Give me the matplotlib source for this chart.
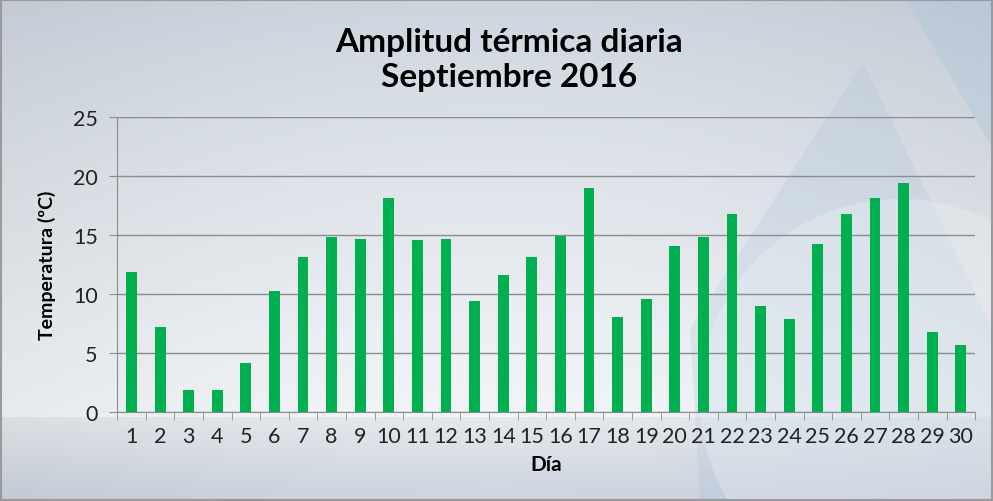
import numpy as np
import matplotlib.pyplot as plt
from matplotlib.patches import Polygon, Ellipse

# datos
dias = list(range(1, 31))
amplitud = [11.9, 7.2, 1.9, 1.9, 4.2, 10.3, 13.1, 14.8, 14.7, 18.1,
            14.6, 14.7, 9.4, 11.6, 13.1, 14.9, 19.0, 8.1, 9.6, 14.1,
            14.8, 16.8, 9.0, 7.9, 14.2, 16.8, 18.1, 19.4, 6.8, 5.7]
yticks = [0, 5, 10, 15, 20, 25]

plt.rcParams['font.family'] = ['Lato', 'DejaVu Sans']

fig = plt.figure(figsize=(9.93, 5.02), dpi=100)

# fondo con degradado (coordenadas en pixeles)
bg = fig.add_axes([0, 0, 1, 1], zorder=0)
bg.set_xlim(0, 993)
bg.set_ylim(502, 0)
bg.axis('off')
W, H = 993, 502
xs = np.linspace(0, 1, W)
ys = np.arange(H)
top = np.array([0.80, 0.83, 0.87])
mid = np.array([0.95, 0.96, 0.97])
low1 = np.array([0.90, 0.91, 0.93])
low2 = np.array([0.80, 0.83, 0.87])
img = np.zeros((H, W, 3))
for j in ys:
    if j < 418:
        t = (j / 418) ** 0.8
        c = top * (1 - t) + mid * t
    else:
        t = (j - 418) / (H - 418)
        c = low1 * (1 - t) + low2 * t
    img[j] = c
hor = 0.04 * (np.sin(np.pi * xs) - 1)
img = np.clip(img + hor[None, :, None], 0, 1)
bg.imshow(img, extent=[0, W, H, 0], aspect='auto')

# marca de agua
bg.add_patch(Polygon([[863, 63], [993, 330], [993, 502], [700, 502], [690, 330]],
                     closed=True, color='#a9c3da', alpha=0.25, lw=0))
bg.add_patch(Polygon([[905, 0], [993, 0], [993, 150]], closed=True,
                     color='#a9c3da', alpha=0.35, lw=0))
bg.add_patch(Ellipse((900, 400), 400, 400, color='#eef2f6', alpha=0.35, lw=0))
bg.add_patch(Polygon([[1, 1], [992, 1], [992, 501], [1, 501]], closed=True, fill=False,
                     edgecolor='#9a9a9a', lw=1.5))

ax = fig.add_axes([0.118, 0.177, 0.864, 0.588], zorder=1)
ax.patch.set_alpha(0)
ax.bar(dias, amplitud, width=0.38, color='#00b050', zorder=3)

ax.set_xlim(0.5, 30.5)
ax.set_ylim(0, 25)
ax.set_yticks(yticks)
ax.yaxis.grid(True, color='#8c8c8c', lw=1)
ax.set_axisbelow(True)
ax.set_xticks(dias)
ax.set_xticks(np.arange(0.5, 31, 1), minor=True)
ax.tick_params(axis='x', which='major', length=0, labelsize=15.5, pad=10, colors='#222222')
ax.tick_params(axis='x', which='minor', length=6, color='#8c8c8c', direction='out')
ax.tick_params(axis='y', length=6, color='#8c8c8c', labelsize=15.5, pad=8, labelcolor='#222222')
for s in ['top', 'right']:
    ax.spines[s].set_visible(False)
ax.spines['left'].set_color('#8c8c8c')
ax.spines['bottom'].set_color('#8c8c8c')

ax.set_ylabel('Temperatura (ºC)', fontsize=14, fontweight='bold', labelpad=12)
ax.set_xlabel('Día', fontsize=15, fontweight='bold', labelpad=6)
fig.text(0.513, 0.88, 'Amplitud térmica diaria\nSeptiembre 2016', ha='center', va='center',
         fontsize=24, fontweight='bold', linespacing=1.25)

plt.savefig('out.png')
